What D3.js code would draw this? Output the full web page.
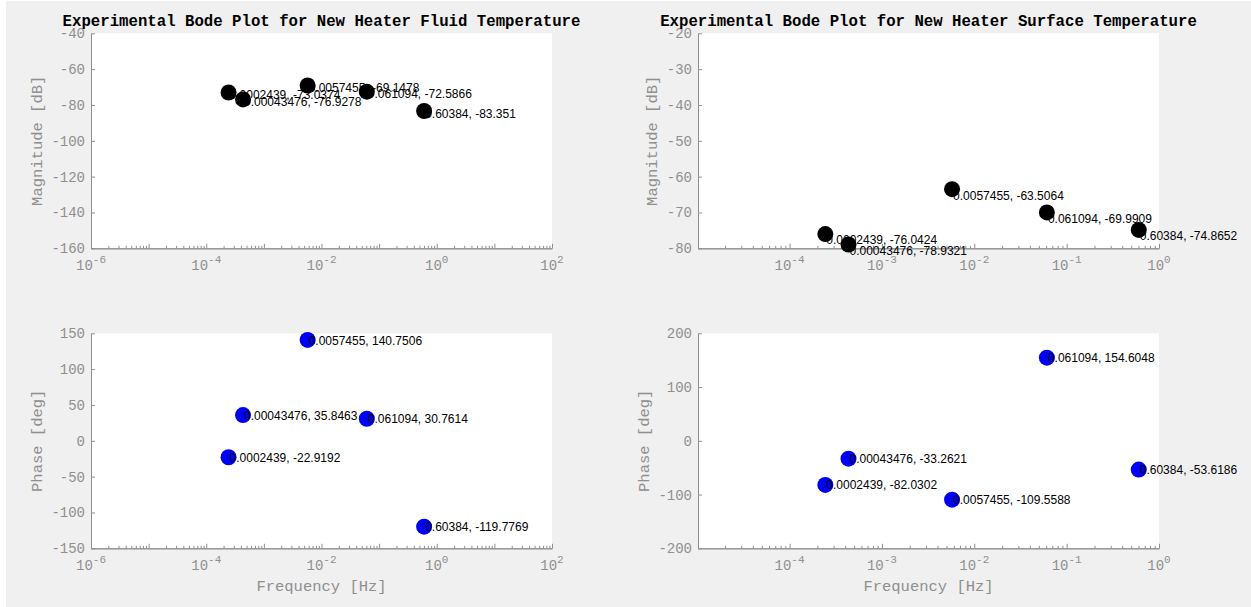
<!DOCTYPE html>
<html>
<head>
<meta charset="utf-8">
<script src="https://cdn.jsdelivr.net/npm/d3@7"></script>
<style>
  html, body { margin: 0; padding: 0; background: #ffffff; }
  svg { display: block; }
</style>
</head>
<body>
<script>
// ---- Data ----
const freqs      = [0.0002439, 0.00043476, 0.0057455, 0.061094, 0.60384];
const fluidMag   = [-73.0374, -76.9278, -69.1478, -72.5866, -83.351];
const fluidPhase = [-22.9192, 35.8463, 140.7506, 30.7614, -119.7769];
const surfMag    = [-76.0424, -78.9321, -63.5064, -69.9909, -74.8652];
const surfPhase  = [-82.0302, -33.2621, -109.5588, 154.6048, -53.6186];

const fluidMagTicks   = [-160, -140, -120, -100, -80, -60, -40];
const fluidPhaseTicks = [-150, -100, -50, 0, 50, 100, 150];
const surfMagTicks    = [-80, -70, -60, -50, -40, -30, -20];
const surfPhaseTicks  = [-200, -100, 0, 100, 200];

const leftFreqExps  = [-6, -4, -2, 0, 2];
const rightFreqExps = [-4, -3, -2, -1, 0];

const titles = ["Experimental Bode Plot for New Heater Fluid Temperature",
                "Experimental Bode Plot for New Heater Surface Temperature"];
const magLabel = "Magnitude [dB]";
const phaseLabel = "Phase [deg]";
const freqLabel = "Frequency [Hz]";

// ---- Layout ----
const W = 1251, H = 607;
const GRAY = "#8f8f8f";
const MONO = "'Liberation Mono', 'Courier New', monospace";
const SANS = "'Liberation Sans', Arial, sans-serif";

const svg = d3.select("body").append("svg").attr("width", W).attr("height", H);
svg.append("rect").attr("x", 6).attr("y", 1).attr("width", W - 6).attr("height", H - 1).attr("fill", "#f0f0f0");

const panels = [
  { x0: 91,  y0: 33.3,  xDom: [1e-6, 1e2],    exps: leftFreqExps,  yDom: [-160, -40], ticks: fluidMagTicks,
    vals: fluidMag, color: "#000000", title: titles[0], ylabel: magLabel, ylOff: 53, xlabel: null },
  { x0: 698, y0: 33.3,  xDom: [1.02e-5, 1],   exps: rightFreqExps, yDom: [-80, -20],  ticks: surfMagTicks,
    vals: surfMag, color: "#000000", title: titles[1], ylabel: magLabel, ylOff: 45, xlabel: null },
  { x0: 91,  y0: 333.3, xDom: [1e-6, 1e2],    exps: leftFreqExps,  yDom: [-150, 150], ticks: fluidPhaseTicks,
    vals: fluidPhase, color: "#0000f2", title: null, ylabel: phaseLabel, ylOff: 53, xlabel: freqLabel },
  { x0: 698, y0: 333.3, xDom: [1.02e-5, 1],   exps: rightFreqExps, yDom: [-200, 200], ticks: surfPhaseTicks,
    vals: surfPhase, color: "#0000f2", title: null, ylabel: phaseLabel, ylOff: 53, xlabel: freqLabel }
];
const PW = 461, PH = 215;

panels.forEach(p => {
  const g = svg.append("g").attr("transform", `translate(${p.x0},${p.y0})`);
  const x = d3.scaleLog().domain(p.xDom).range([0, PW]);
  const y = d3.scaleLinear().domain(p.yDom).range([PH, 0]);

  g.append("rect").attr("width", PW).attr("height", PH).attr("fill", "#ffffff");

  // x ticks: minor and major
  const kMin = Math.floor(Math.log10(p.xDom[0])), kMax = Math.ceil(Math.log10(p.xDom[1]));
  const minor = [], major = [];
  for (let k = kMin; k <= kMax; k++) {
    for (let m = 1; m <= 9; m++) {
      const v = m * Math.pow(10, k);
      if (v < p.xDom[0] * 0.999 || v > p.xDom[1] * 1.001) continue;
      (m === 1 ? major : minor).push(v);
    }
  }
  const xMinorAxis = d3.axisBottom(x).tickValues(minor).tickSize(-2.5).tickSizeOuter(0).tickFormat("");
  const xMajorAxis = d3.axisBottom(x).tickValues(major).tickSize(-4.5).tickSizeOuter(0).tickFormat("");
  [xMinorAxis, xMajorAxis].forEach(ax => {
    const ag = g.append("g").attr("transform", `translate(0,${PH})`).call(ax);
    ag.selectAll("line").attr("stroke", GRAY);
    ag.select(".domain").attr("stroke", GRAY);
  });

  // x tick labels 10^n
  p.exps.forEach(e => {
    const t = g.append("text")
      .attr("x", x(Math.pow(10, e)))
      .attr("y", PH + 22)
      .attr("text-anchor", "middle")
      .attr("font-family", MONO)
      .attr("font-size", 14)
      .attr("fill", GRAY);
    t.append("tspan").text("10");
    t.append("tspan").attr("dy", -7).attr("font-size", 11).text(String(e));
  });

  // y axis
  const yAxis = d3.axisLeft(y).tickValues(p.ticks).tickSize(-4).tickSizeOuter(0).tickPadding(6)
    .tickFormat(d => String(d));
  const yg = g.append("g").call(yAxis);
  yg.selectAll("line").attr("stroke", GRAY);
  yg.select(".domain").attr("stroke", GRAY);
  yg.selectAll("text").attr("font-family", MONO).attr("font-size", 14).attr("fill", GRAY);

  // y label
  g.append("text")
    .attr("transform", `translate(${-p.ylOff},${PH / 2}) rotate(-90)`)
    .attr("text-anchor", "middle")
    .attr("dominant-baseline", "middle")
    .attr("font-family", MONO)
    .attr("font-size", 15.5)
    .attr("fill", GRAY)
    .text(p.ylabel);

  // x label
  if (p.xlabel) {
    g.append("text")
      .attr("x", PW / 2)
      .attr("y", PH + 39)
      .attr("text-anchor", "middle")
      .attr("dominant-baseline", "middle")
      .attr("font-family", MONO)
      .attr("font-size", 15.5)
      .attr("fill", GRAY)
      .text(p.xlabel);
  }

  // title
  if (p.title) {
    g.append("text")
      .attr("x", PW / 2)
      .attr("y", -7)
      .attr("text-anchor", "middle")
      .attr("font-family", MONO)
      .attr("font-weight", "bold")
      .attr("font-size", 15.7)
      .attr("fill", "#000000")
      .text(p.title);
  }

  const pts = freqs.map((f, i) => ({ f, v: p.vals[i] }));

  // markers
  g.selectAll("circle.pt").data(pts).enter().append("circle")
    .attr("class", "pt")
    .attr("cx", d => x(d.f))
    .attr("cy", d => y(d.v))
    .attr("r", 8)
    .attr("fill", p.color);

  // data labels
  g.selectAll("text.lbl").data(pts).enter().append("text")
    .attr("class", "lbl")
    .attr("x", d => x(d.f) + 1)
    .attr("y", d => y(d.v - 2))
    .attr("dominant-baseline", "middle")
    .attr("font-family", SANS)
    .attr("font-size", 12)
    .attr("fill", "#000000")
    .text(d => `${d.f}, ${d.v}`);
});
</script>
</body>
</html>
